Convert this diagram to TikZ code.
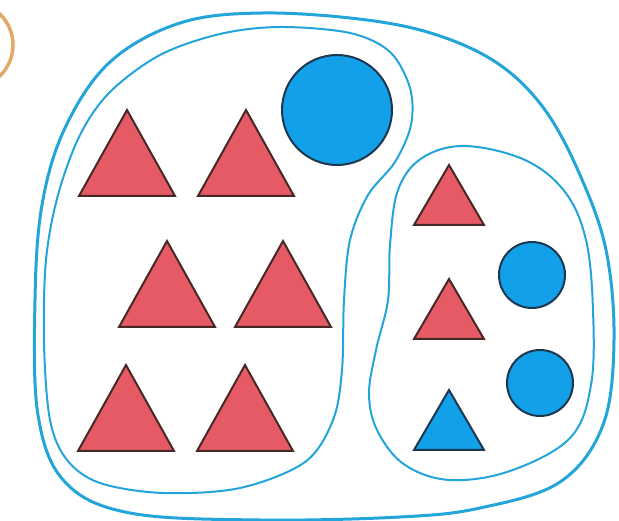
\documentclass[tikz,border=0pt]{standalone}
\definecolor{ringorange}{RGB}{228,168,105}
\definecolor{lineblue}{RGB}{35,165,218}
\definecolor{trired}{RGB}{230,90,102}
\definecolor{triedge}{RGB}{70,40,38}
\definecolor{fillblue}{RGB}{18,160,232}
\definecolor{dotedge}{RGB}{30,55,80}
\begin{document}
\begin{tikzpicture}[x=1pt,y=-1pt,
  outerline/.style={draw=lineblue,line width=3pt},
  innerline/.style={draw=lineblue,line width=2pt},
  redtri/.style={fill=trired,draw=triedge,line width=2pt,line join=miter},
  bluetri/.style={fill=fillblue,draw=dotedge,line width=2pt,line join=miter},
  bluedot/.style={circle,fill=fillblue,draw=dotedge,line width=2pt,inner sep=0pt}]
\useasboundingbox (0,0) rectangle (619,521);
% orange partial circle
\draw[ringorange,line width=3.5pt] (-30,45) circle (43);
% outer boundary
\draw[outerline] plot[smooth cycle,tension=0.6] coordinates {
 (263,13) (367,20) (440,36) (500,65) (545,110) (580,175) (606,250) (614,340) (603,425) (560,482) (480,508) (400,517) (260,520) (130,513) (65,482) (38,415) (35,300) (42,205) (65,128) (110,62) (180,23)};
% inner left region
\draw[innerline] plot[smooth cycle,tension=0.55] coordinates {
 (280,27) (350,33) (390,52) (410,88) (411,125) (395,162) (368,195) (350,240) (344,300) (342,370) (333,420) (305,462) (240,488) (163,493) (100,483) (67,460) (50,420) (44,343) (46,260) (58,195) (80,135) (110,92) (160,55) (220,34)};
% inner right region
\draw[innerline] plot[smooth cycle,tension=0.6] coordinates {
 (465,146) (525,160) (565,192) (586,240) (593,310) (591,385) (570,438) (510,471) (450,480) (405,465) (378,432) (369,395) (376,350) (388,300) (390,245) (398,190) (422,158)};
% big circle
\node[bluedot,minimum size=110pt] (c1) at (337,110) {};
% left triangles
\foreach \ax/\ay in {127/110,246/110,167/241,283/241,126/365,245/365}{
  \draw[redtri] (\ax,\ay) -- ({\ax+48},{\ay+86}) -- ({\ax-48},{\ay+86}) -- cycle;}
% right region
\draw[redtri] (449,165) -- (484,225) -- (414,225) -- cycle;
\draw[redtri] (449,279) -- (484,339) -- (414,339) -- cycle;
\draw[bluetri] (449,390) -- (484,450) -- (414,450) -- cycle;
\node[bluedot,minimum size=66pt] (c2) at (532,275) {};
\node[bluedot,minimum size=66pt] (c3) at (540,383) {};
\end{tikzpicture}
\end{document}
